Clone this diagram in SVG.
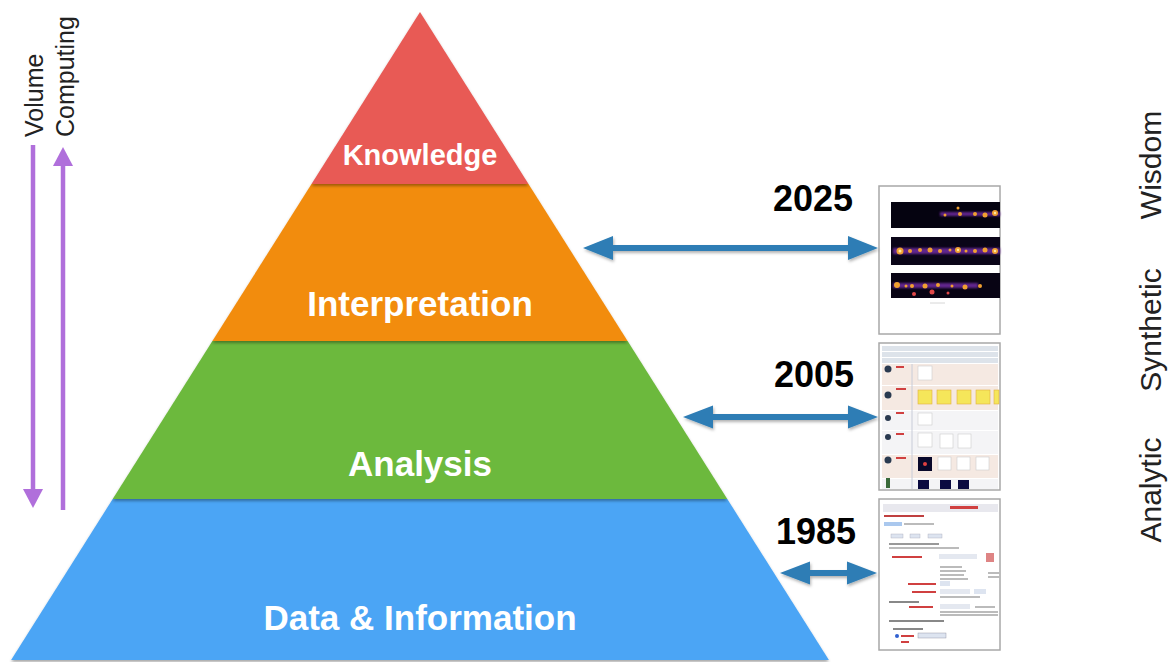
<svg xmlns="http://www.w3.org/2000/svg" width="1171" height="662" viewBox="0 0 1171 662">
<defs>
<filter id="sh" x="-5%" y="-5%" width="110%" height="115%">
<feDropShadow dx="0" dy="2" stdDeviation="1.5" flood-color="#000" flood-opacity="0.35"/>
</filter>
<filter id="ash" x="-5%" y="-30%" width="110%" height="170%">
<feDropShadow dx="1" dy="2" stdDeviation="1.5" flood-color="#000" flood-opacity="0.3"/>
</filter>
<filter id="blur" x="-10%" y="-50%" width="120%" height="200%">
<feGaussianBlur stdDeviation="1.2"/>
</filter>
<style>
.lvl{font-family:"Liberation Sans",Arial,sans-serif;font-weight:bold;fill:#fff;text-anchor:middle}
.yr{font-family:"Liberation Sans",Arial,sans-serif;font-weight:bold;fill:#000;font-size:36px}
.side{font-family:"Liberation Sans",Arial,sans-serif;fill:#222;font-size:30px;text-anchor:middle}
.ax{font-family:"Liberation Sans",Arial,sans-serif;fill:#222;font-size:25px}
.barr{fill:#2e7db5;filter:url(#ash)}
.pur{stroke:#b06fdb;stroke-width:4.5;fill:none}
.purh{fill:#b06fdb}
.shot{fill:#fff;stroke:#a8a8a8;stroke-width:1.5}
</style>
</defs>
<rect width="1171" height="662" fill="#fff"/>

<g id="data">
<polygon points="112.7,499 727.3,499 828.9,660 11.1,660" fill="#4ba5f5" filter="url(#sh)"/>
<text class="lvl" x="420" y="630" font-size="35">Data &amp; Information</text>
</g>
<g id="analysis">
<polygon points="212.4,341 627.6,341 727.3,499 112.7,499" fill="#6cb93c" filter="url(#sh)"/>
<text class="lvl" x="420" y="476" font-size="35">Analysis</text>
</g>
<g id="interpretation">
<polygon points="311.5,184 528.5,184 627.6,341 212.4,341" fill="#f28c10" filter="url(#sh)"/>
<text class="lvl" x="420" y="316" font-size="35">Interpretation</text>
</g>
<g id="knowledge">
<polygon points="420,12 528.5,184 311.5,184" fill="#e85a55" filter="url(#sh)"/>
<text class="lvl" x="420" y="165" font-size="29">Knowledge</text>
</g>

<g id="axis-left">
<text class="ax" transform="translate(43,137) rotate(-90)">Volume</text>
<text class="ax" transform="translate(74,137) rotate(-90)" font-size="26">Computing</text>
</g>
<g id="axis-right">
<text class="side" transform="translate(1161,165) rotate(-90)">Wisdom</text>
<text class="side" transform="translate(1161,330) rotate(-90)">Synthetic</text>
<text class="side" transform="translate(1161,490) rotate(-90)">Analytic</text>
</g>

<g id="years">
<text class="yr" x="773" y="211">2025</text>
<text class="yr" x="774" y="387">2005</text>
<text class="yr" x="776" y="544">1985</text>
</g>

<g id="shot2025">
<rect class="shot" x="879" y="186" width="121" height="148"/>
<rect x="891" y="202" width="109" height="26" fill="#050310"/>
<rect x="891" y="237" width="109" height="28" fill="#0a0518"/>
<rect x="891" y="273" width="109" height="25" fill="#080414"/>
<g fill="#6a2a9a" filter="url(#blur)" opacity="0.9">
<rect x="893" y="248" width="107" height="6"/><rect x="893" y="283" width="85" height="5"/><rect x="940" y="212" width="60" height="4"/>
</g>
<g fill="#f0a030">
<circle cx="960" cy="214" r="2"/><circle cx="975" cy="214" r="2"/><circle cx="985" cy="215" r="2.5"/><circle cx="995" cy="213" r="3"/><circle cx="958" cy="208" r="1.5"/><circle cx="945" cy="215" r="1.5"/>
<circle cx="900" cy="251" r="3.5"/><circle cx="910" cy="251" r="2"/><circle cx="920" cy="250" r="2"/><circle cx="930" cy="250" r="2.5"/><circle cx="940" cy="251" r="2"/><circle cx="950" cy="250" r="1.5"/><circle cx="958" cy="250" r="3"/><circle cx="966" cy="251" r="1.5"/><circle cx="975" cy="251" r="2"/><circle cx="985" cy="250" r="2.5"/><circle cx="995" cy="251" r="3"/>
<circle cx="897" cy="285" r="3"/><circle cx="906" cy="286" r="1.5"/><circle cx="912" cy="286" r="2"/><circle cx="925" cy="286" r="2.5"/><circle cx="938" cy="285" r="2"/><circle cx="952" cy="286" r="1.5"/><circle cx="965" cy="287" r="2.5"/><circle cx="980" cy="286" r="2"/>
</g>
<g fill="#ffe9a0"><circle cx="995" cy="213" r="1.2"/><circle cx="900" cy="251" r="1.5"/><circle cx="958" cy="250" r="1.2"/><circle cx="995" cy="251" r="1.2"/></g>
<g fill="#e04848"><circle cx="914" cy="294" r="2"/><circle cx="932" cy="292" r="2.5"/><circle cx="948" cy="293" r="1.5"/></g>
<g stroke="#ccc" stroke-width="0.8"><line x1="930" y1="303" x2="945" y2="303"/></g>
</g>

<g id="shot2005">
<rect class="shot" x="879" y="343" width="121" height="147"/>
<rect x="882" y="346" width="116" height="5" fill="#dde3ea"/>
<rect x="882" y="352" width="116" height="5" fill="#dde3ea"/>
<rect x="882" y="358" width="116" height="5" fill="#dde3ea"/>
<rect x="882" y="364" width="116" height="21" fill="#f5e9e2"/>
<rect x="882" y="386" width="116" height="24" fill="#f5e9e2"/>
<rect x="882" y="411" width="116" height="19" fill="#f4f4f6"/>
<rect x="882" y="431" width="116" height="23" fill="#f4f4f6"/>
<rect x="882" y="455" width="116" height="23" fill="#f5e9e2"/>
<rect x="882" y="479" width="116" height="10" fill="#f4f4f6"/>
<line x1="912" y1="364" x2="912" y2="489" stroke="#c8ccd8" stroke-width="1"/>
<g fill="#2a3a50"><circle cx="888" cy="369" r="3.5"/><circle cx="888" cy="395" r="3.5"/><circle cx="888" cy="418" r="3"/><circle cx="888" cy="437" r="3"/><circle cx="888" cy="460" r="3.5"/></g>
<rect x="886" y="478" width="4" height="10" fill="#3a6a3a"/>
<g fill="#d04040"><rect x="896" y="366" width="8" height="2"/><rect x="896" y="388" width="10" height="2"/><rect x="896" y="412" width="8" height="2"/><rect x="896" y="433" width="8" height="2"/><rect x="896" y="457" width="10" height="2"/></g>
<g fill="#fff" stroke="#ccc" stroke-width="0.6">
<rect x="918" y="366" width="14" height="14"/>
<rect x="918" y="413" width="14" height="12"/>
<rect x="918" y="433" width="14" height="14"/><rect x="940" y="434" width="13" height="14"/><rect x="958" y="434" width="13" height="14"/>
<rect x="938" y="457" width="13" height="13"/><rect x="957" y="457" width="13" height="13"/><rect x="976" y="457" width="13" height="13"/>
</g>
<g fill="#f5e65a" stroke="#e0b040" stroke-width="0.6">
<rect x="918" y="390" width="14" height="14"/><rect x="937" y="390" width="14" height="14"/><rect x="957" y="390" width="14" height="14"/><rect x="976" y="390" width="14" height="14"/><rect x="994" y="390" width="5" height="14"/>
</g>
<rect x="918" y="457" width="14" height="14" fill="#08082a"/>
<circle cx="925" cy="464" r="2" fill="#e04040"/>
<g fill="#0a0a40"><rect x="918" y="480" width="11" height="9"/><rect x="940" y="480" width="11" height="9"/><rect x="958" y="480" width="11" height="9"/></g>
</g>

<g id="shot1985">
<rect class="shot" x="879" y="499" width="121" height="151"/>
<rect x="883" y="504" width="115" height="8" fill="#e8e8ee"/>
<rect x="950" y="506" width="28" height="3" fill="#d04040"/>
<rect x="884" y="515" width="40" height="2" fill="#c04040"/>
<rect x="884" y="522" width="18" height="4" fill="#aac8ee"/>
<rect x="904" y="523" width="30" height="2" fill="#bbb"/>
<g fill="#dde4f0" stroke="#aab" stroke-width="0.4"><rect x="891" y="534" width="12" height="4"/><rect x="910" y="534" width="10" height="4"/><rect x="928" y="534" width="14" height="4"/></g>
<rect x="889" y="543" width="50" height="2" fill="#999"/>
<rect x="889" y="547" width="70" height="2" fill="#bbb"/>
<rect x="892" y="556" width="30" height="2" fill="#d04040"/>
<rect x="939" y="554" width="38" height="5" fill="#e4e8f0"/>
<rect x="986" y="553" width="8" height="9" fill="#d05050" opacity="0.7"/>
<g fill="#bbb"><rect x="940" y="566" width="22" height="2"/><rect x="940" y="570" width="26" height="2"/><rect x="940" y="574" width="24" height="2"/><rect x="940" y="578" width="28" height="2"/><rect x="988" y="572" width="12" height="2"/><rect x="988" y="576" width="12" height="2"/></g>
<rect x="908" y="583" width="28" height="2" fill="#d04040"/>
<rect x="940" y="581" width="10" height="5" fill="#dde4f0"/>
<rect x="912" y="591" width="24" height="2" fill="#d04040"/>
<rect x="940" y="589" width="30" height="5" fill="#e4e8f0"/>
<rect x="974" y="589" width="12" height="5" fill="#dde4f0"/>
<rect x="940" y="596" width="40" height="2" fill="#bbb"/>
<rect x="889" y="601" width="30" height="2" fill="#888"/>
<rect x="909" y="606" width="24" height="2" fill="#d04040"/>
<rect x="940" y="604" width="30" height="5" fill="#e4e8f0"/>
<rect x="975" y="606" width="20" height="2" fill="#bbb"/>
<g fill="#bbb"><rect x="940" y="611" width="58" height="2"/><rect x="940" y="614" width="58" height="2"/></g>
<rect x="889" y="620" width="55" height="2" fill="#888"/>
<rect x="893" y="628" width="30" height="2" fill="#888"/>
<circle cx="897" cy="636" r="2" fill="#3060d0"/>
<rect x="901" y="635" width="13" height="2" fill="#d04040"/>
<rect x="918" y="633" width="28" height="5" fill="#dde4f0" stroke="#889" stroke-width="0.4"/>
<rect x="901" y="641" width="8" height="2" fill="#d04040"/>
</g>

<g id="connectors">
<polygon class="barr" points="583,248 613,236 613,245 848,245 848,236 878,248 848,260 848,251 613,251 613,260"/>
<polygon class="barr" points="683,417 713,405.5 713,414 848,414 848,405.5 878,417 848,428.5 848,420 713,420 713,428.5"/>
<polygon class="barr" points="780,573 810,561.5 810,570 847,570 847,561.5 877,573 847,584.5 847,576 810,576 810,584.5"/>
<line class="pur" x1="33" y1="145" x2="33" y2="492"/>
<polygon class="purh" points="23,489 43,489 33,508"/>
<line class="pur" x1="63" y1="510" x2="63" y2="163"/>
<polygon class="purh" points="53,166 73,166 63,147"/>
</g>
</svg>
